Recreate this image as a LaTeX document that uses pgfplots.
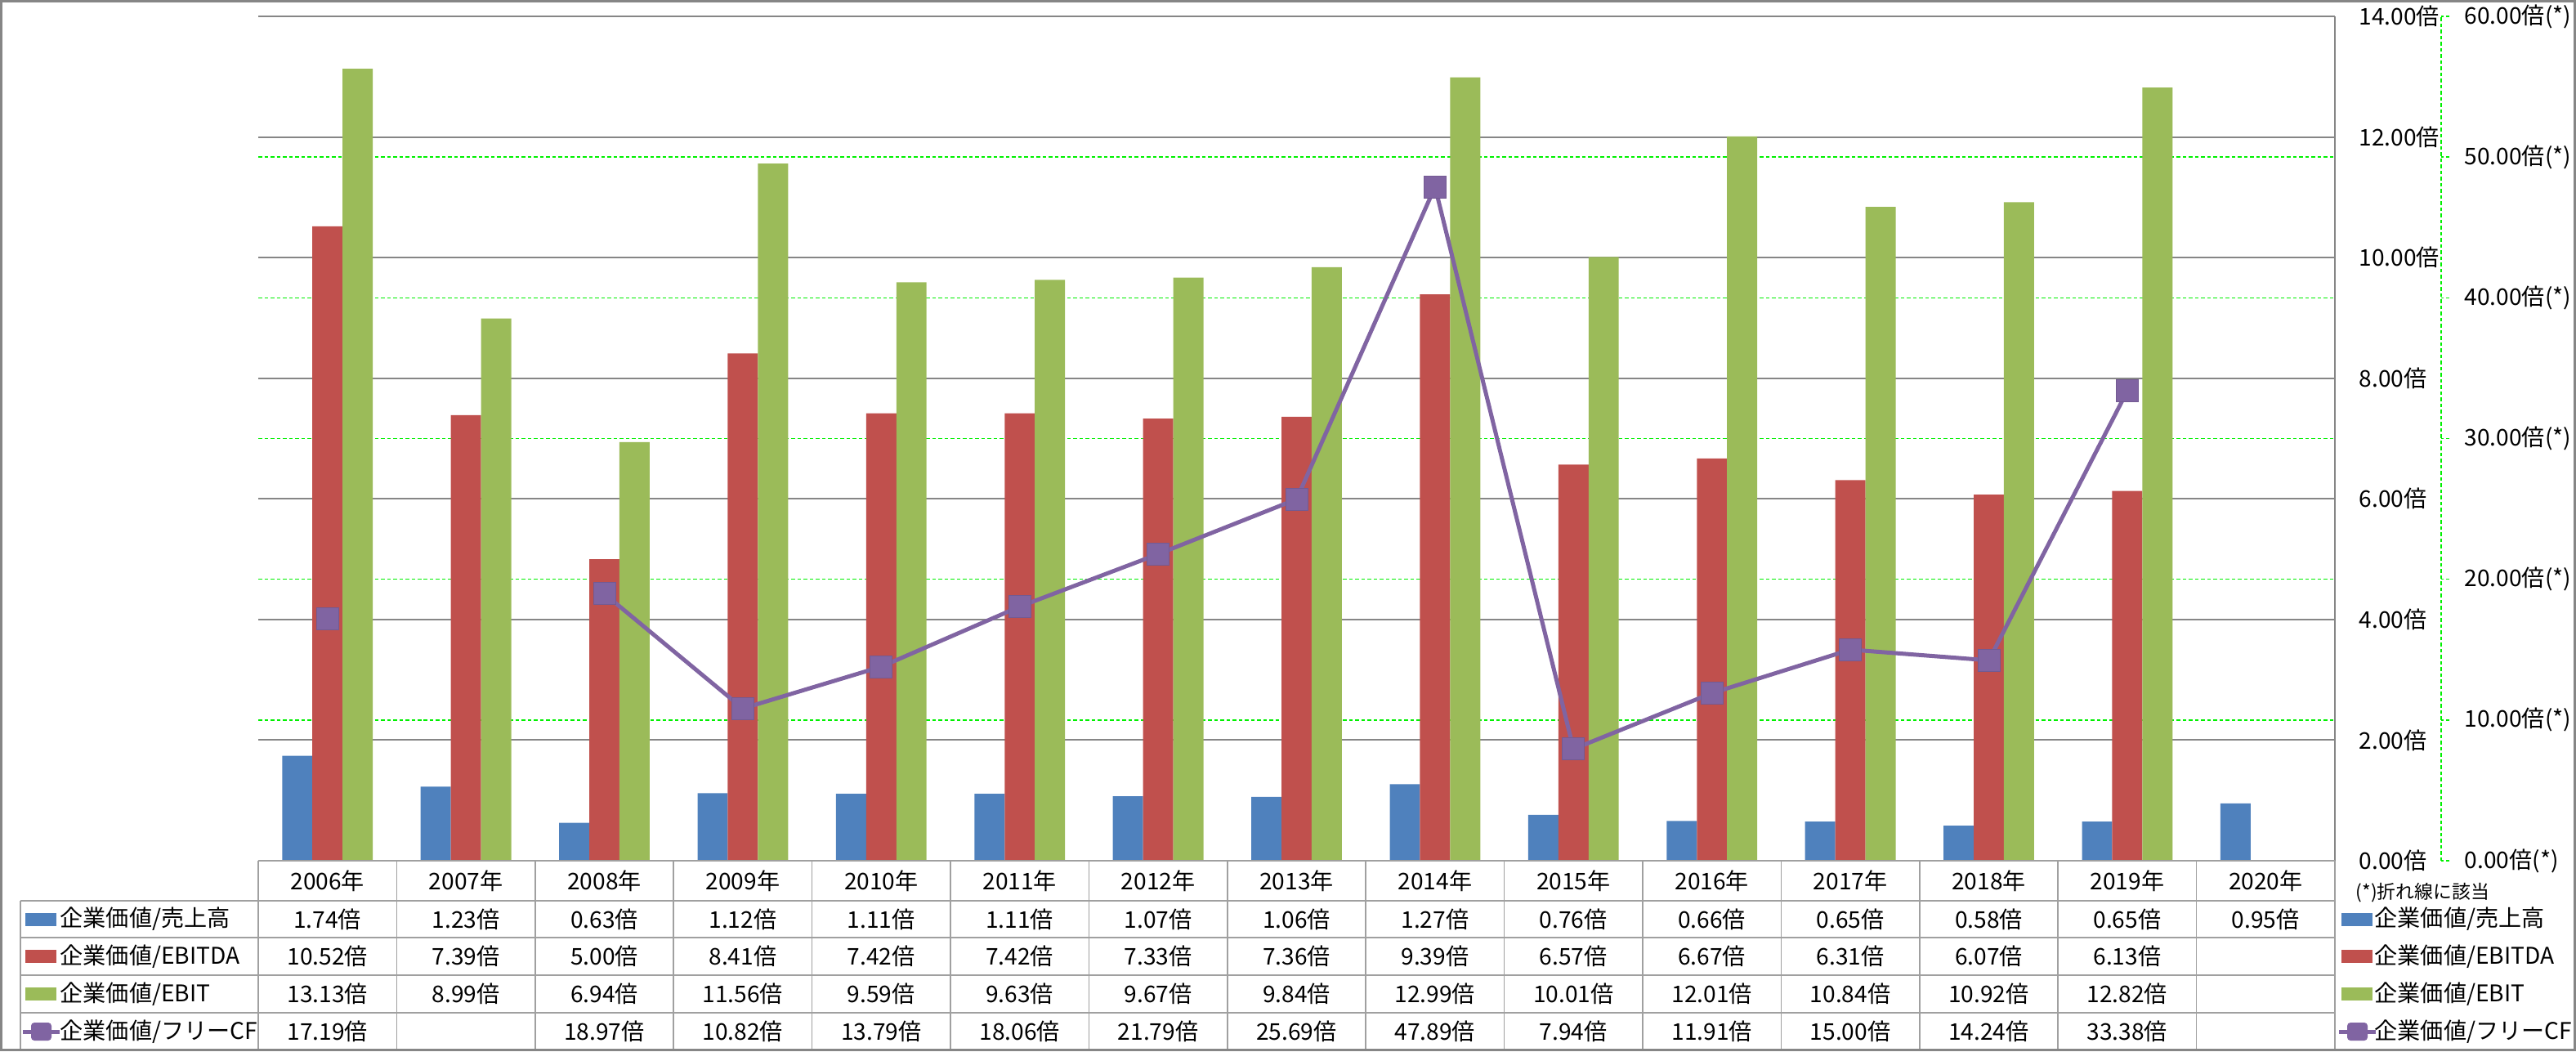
\documentclass[border=0pt]{standalone}
\usepackage{fontspec}
\setmainfont{Noto Sans CJK JP}
\usepackage{pgfplots}
\usepackage{pgfplotstable}
\pgfplotsset{compat=1.18}

\definecolor{cBlue}{HTML}{4F81BD}
\definecolor{cRed}{HTML}{C0504D}
\definecolor{cGreen}{HTML}{9BBB59}
\definecolor{cPurple}{HTML}{8064A2}
\definecolor{cGrid}{HTML}{868686}
\definecolor{cTab}{HTML}{A0A0A0}
\definecolor{cLime}{HTML}{00F000}

% x: 0 = 2006 ... 14 = 2020
\pgfplotstableread{
x  sales ebitda ebit  fcf
0  1.74  10.52  13.13 17.19
1  1.23  7.39   8.99  nan
2  0.63  5.00   6.94  18.97
3  1.12  8.41   11.56 10.82
4  1.11  7.42   9.59  13.79
5  1.11  7.42   9.63  18.06
6  1.07  7.33   9.67  21.79
7  1.06  7.36   9.84  25.69
8  1.27  9.39   12.99 47.89
9  0.76  6.57   10.01 7.94
10 0.66  6.67   12.01 11.91
11 0.65  6.31   10.84 15.00
12 0.58  6.07   10.92 14.24
13 0.65  6.13   12.82 33.38
14 0.95  nan    nan   nan
}\datatable

\tikzset{limedash/.style={cLime, line width=0.015cm, dash pattern=on 0.045cm off 0.03cm}}

\begin{document}
\begin{tikzpicture}[x=1cm,y=1cm]
\useasboundingbox (0,0) rectangle (31.52,-12.86);

% primary axis (bars)
\begin{axis}[
  at={(3.16cm,-10.53cm)}, anchor=south west,
  scale only axis, width=25.41cm, height=10.33cm,
  xmin=-0.5, xmax=14.5, ymin=0, ymax=14,
  axis x line=none, axis y line*=right,
  y axis line style={cGrid, line width=0.02cm},
  xtick=\empty, ytick={0,2,...,14},
  ymajorgrids, major grid style={cGrid, line width=0.02cm},
  ytick style={draw=none},
  yticklabel={\pgfmathprintnumber{\tick}倍},
  yticklabel style={font=\fontsize{8}{9}\selectfont, anchor=west, inner sep=0pt, xshift=0.29cm,
    /pgf/number format/.cd, fixed, fixed zerofill, precision=2, assume math mode=true},
  extra y ticks={2.33333,4.66667,7,9.33333,11.66667},
  extra y tick labels={},
  extra y tick style={grid=major, major grid style={limedash}, major tick length=0pt},
  clip=false,
]
\addplot[ybar, bar width=0.218, bar shift=-0.218, fill=cBlue, draw=none] table[x=x, y=sales] {\datatable};
\addplot[ybar, bar width=0.218, bar shift=0, fill=cRed, draw=none] table[x=x, y=ebitda] {\datatable};
\addplot[ybar, bar width=0.218, bar shift=0.218, fill=cGreen, draw=none] table[x=x, y=ebit] {\datatable};
\end{axis}

% secondary axis (line), its y axis line lies 1.30cm right of the plot area
\begin{axis}[
  at={(3.16cm,-10.53cm)}, anchor=south west,
  scale only axis, width=26.71cm, height=10.33cm,
  xmin=-0.5, xmax=15.2674, ymin=0, ymax=60,
  axis x line=none, axis y line*=right,
  y axis line style={limedash},
  xtick=\empty, ytick={0,10,...,60},
  tick align=outside, major tick length=0.1cm,
  ytick style={limedash},
  yticklabel={\pgfmathprintnumber{\tick}倍(*)},
  yticklabel style={font=\fontsize{8}{9}\selectfont, anchor=west, inner sep=0pt, xshift=0.18cm,
    /pgf/number format/.cd, fixed, fixed zerofill, precision=2, assume math mode=true},
  unbounded coords=jump,
  clip=false,
]
\addplot[cPurple, line width=0.05cm, mark=square*, mark size=0.135cm,
  mark options={fill=cPurple, draw=cPurple!90!black, line width=0.01cm, rounded corners=0.03cm}]
  table[x=x, y=fcf] {\datatable};
\end{axis}

% data table
\begin{scope}[cTab, line width=0.015cm]
  \draw (3.16,-10.53) -- (28.57,-10.53);
  \foreach \yy in {-11.02,-11.47,-11.93,-12.39} \draw (0.25,\yy) -- (28.57,\yy);
  \draw (0.25,-11.02) -- (0.25,-12.86);
  \foreach \k in {0,...,15} \draw ({3.16+1.694*\k},-10.53) -- ({3.16+1.694*\k},-12.86);
\end{scope}

\begin{scope}[font=\fontsize{8}{9}\selectfont]
  \foreach \yr [count=\i from 0] in {2006,...,2020}
    \node at ({3.16+1.694*(\i+0.5)},-10.775) {\yr 年};
  \foreach \v [count=\i from 0] in {1.74,1.23,0.63,1.12,1.11,1.11,1.07,1.06,1.27,0.76,0.66,0.65,0.58,0.65,0.95}
    \node at ({3.16+1.694*(\i+0.5)},-11.245) {\v 倍};
  \foreach \v [count=\i from 0] in {10.52,7.39,5.00,8.41,7.42,7.42,7.33,7.36,9.39,6.57,6.67,6.31,6.07,6.13}
    \node at ({3.16+1.694*(\i+0.5)},-11.70) {\v 倍};
  \foreach \v [count=\i from 0] in {13.13,8.99,6.94,11.56,9.59,9.63,9.67,9.84,12.99,10.01,12.01,10.84,10.92,12.82}
    \node at ({3.16+1.694*(\i+0.5)},-12.16) {\v 倍};
  \foreach \v [count=\i from 0] in {17.19,,18.97,10.82,13.79,18.06,21.79,25.69,47.89,7.94,11.91,15.00,14.24,33.38}
    \node at ({3.16+1.694*(\i+0.5)},-12.62) {\v\ifx\v\empty\else 倍\fi};

  % legend keys: left column of the table and right of it
  \foreach \xa/\xt in {0.31/0.73, 28.65/29.05} {
    \fill[cBlue]  (\xa,-11.325) rectangle ++(0.38,0.16);
    \fill[cRed]   (\xa,-11.78) rectangle ++(0.38,0.16);
    \fill[cGreen] (\xa,-12.24) rectangle ++(0.38,0.16);
    \draw[cPurple, line width=0.05cm] ({\xa-0.03},-12.62) -- ({\xa+0.42},-12.62);
    \fill[cPurple, rounded corners=0.04cm] ({\xa+0.07},-12.73) rectangle ++(0.25,0.22);
    \node[anchor=west, inner sep=0pt] at (\xt,-11.245) {企業価値/売上高};
    \node[anchor=west, inner sep=0pt] at (\xt,-11.70) {企業価値/EBITDA};
    \node[anchor=west, inner sep=0pt] at (\xt,-12.16) {企業価値/EBIT};
    \node[anchor=west, inner sep=0pt] at (\xt,-12.62) {企業価値/フリーCF};
  }
\end{scope}
\node[anchor=west, inner sep=0pt, font=\fontsize{6.5}{8}\selectfont] at (28.82,-10.92) {(*)折れ線に該当};

% chart frame
\draw[cGrid, line width=0.03cm] (0.015,-0.015) rectangle (31.505,-12.845);
\end{tikzpicture}
\end{document}
